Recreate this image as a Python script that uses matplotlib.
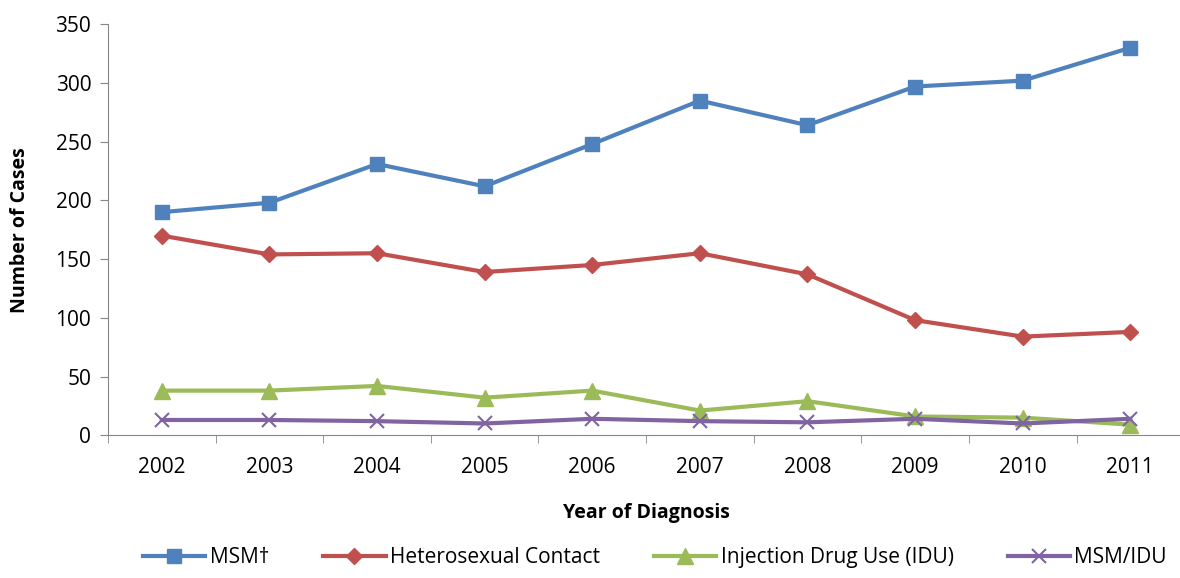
import matplotlib
matplotlib.use("Agg")
import matplotlib.pyplot as plt
import numpy as np

years = [2002, 2003, 2004, 2005, 2006, 2007, 2008, 2009, 2010, 2011]
msm = [190, 198, 231, 212, 248, 285, 264, 297, 302, 330]
hetero = [170, 154, 155, 139, 145, 155, 137, 98, 84, 88]
idu = [38, 38, 42, 32, 38, 21, 29, 16, 15, 9]
msm_idu = [13, 13, 12, 10, 14, 12, 11, 14, 10, 14]

plt.rcParams["font.family"] = ["Open Sans", "DejaVu Sans"]

fig = plt.figure(figsize=(11.8, 5.78), dpi=100)
ax = fig.add_axes([0.0915, 0.247, 0.912, 0.711])
x = np.arange(len(years))

ax.plot(x, msm, color="#4F81BD", lw=3, marker="s", ms=10, label="MSM\u2020")
ax.plot(x, hetero, color="#C0504D", lw=3, marker="D", ms=8, label="Heterosexual Contact")
ax.plot(x, idu, color="#9BBB59", lw=3, marker="^", ms=11, label="Injection Drug Use (IDU)")
ax.plot(x, msm_idu, color="#8064A2", lw=3, marker="x", ms=10, mew=1.5, label="MSM/IDU")

ax.set_xlim(-0.5, len(years) - 0.5)
ax.set_ylim(0, 350)
ax.set_yticks(range(0, 351, 50))
ax.set_xticks(x)
ax.set_xticklabels([str(y) for y in years])
ax.set_xticks(np.arange(-0.5, len(years), 1.0), minor=True)
ax.tick_params(axis="x", which="major", length=0, labelsize=15, pad=16)
ax.tick_params(axis="x", which="minor", length=6, color="#868686")
ax.tick_params(axis="y", length=6, color="#868686", labelsize=15, pad=6)

for s in ["top", "right"]:
    ax.spines[s].set_visible(False)
for s in ["left", "bottom"]:
    ax.spines[s].set_color("#868686")

ax.set_ylabel("Number of Cases", fontsize=14, fontweight="bold", labelpad=18)
ax.set_xlabel("Year of Diagnosis", fontsize=14, fontweight="bold", labelpad=18)

fig.legend(loc="lower center", bbox_to_anchor=(0.555, -0.015), ncol=4, frameon=False,
           fontsize=15, handlelength=3, columnspacing=2.6, handletextpad=0.2)

fig.savefig("out.png", dpi=100)
